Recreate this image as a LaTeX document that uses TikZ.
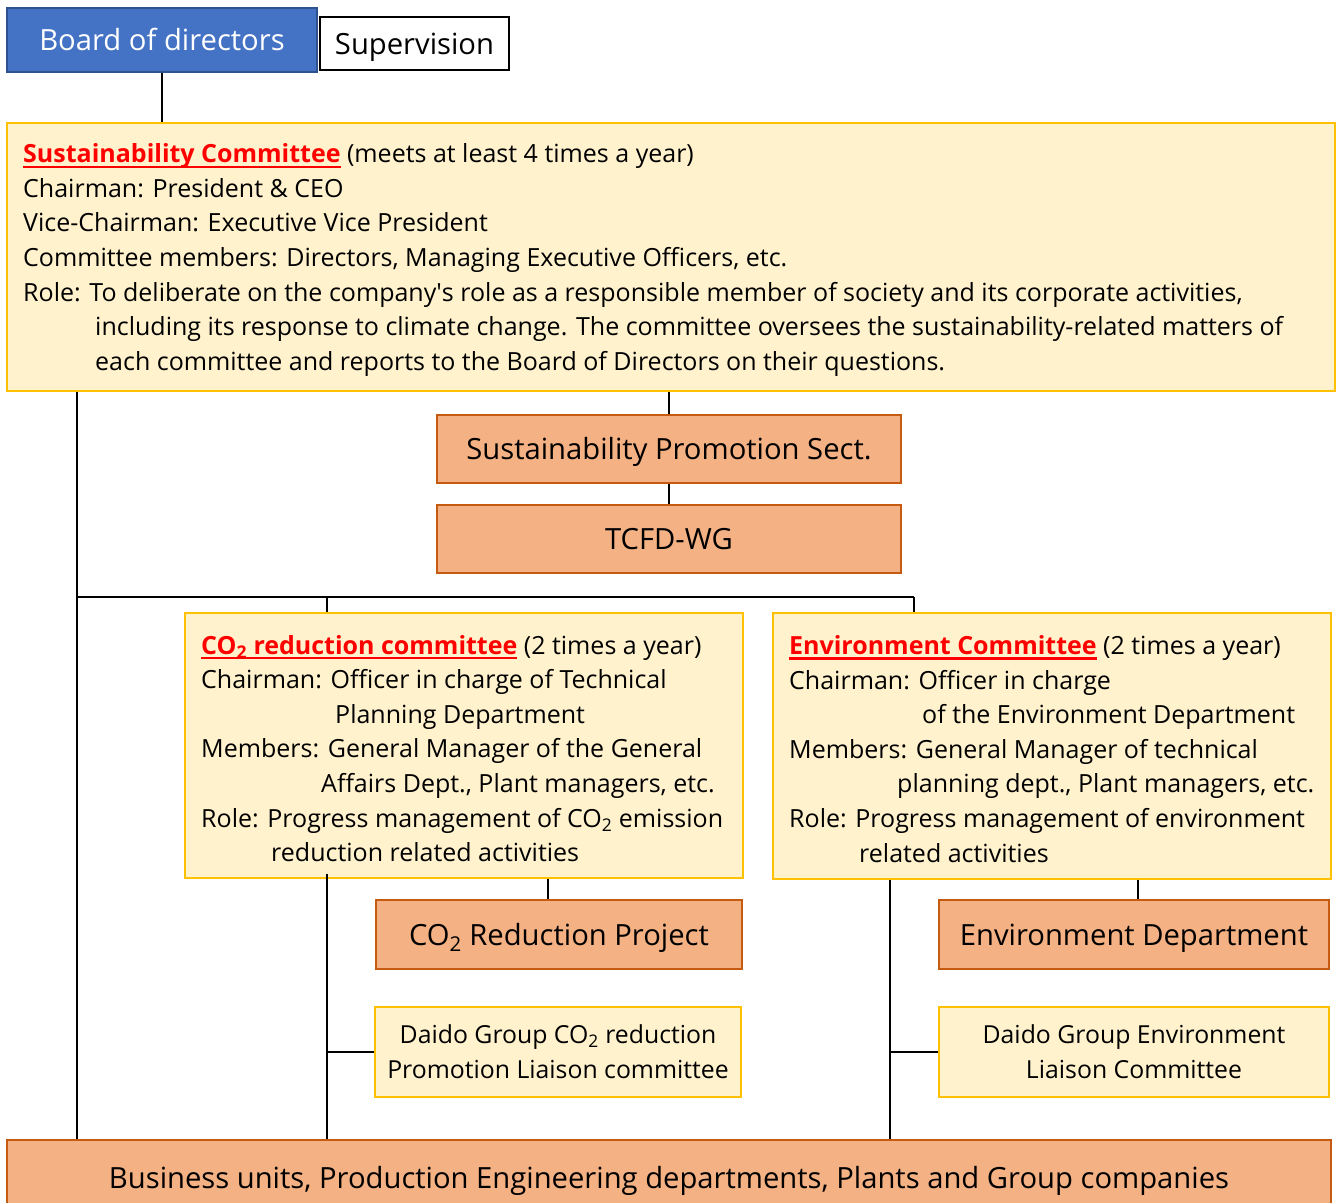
\documentclass[tikz,border=0pt]{standalone}
\usepackage{fontspec}
\setmainfont{Open Sans}
\definecolor{boardblue}{HTML}{4472C4}
\definecolor{boardedge}{HTML}{2F528F}
\definecolor{ylfill}{HTML}{FFF2CC}
\definecolor{yledge}{HTML}{FFC000}
\definecolor{orfill}{HTML}{F4B183}
\definecolor{oredge}{HTML}{C55A11}
\definecolor{titlered}{HTML}{FF0000}
\newsavebox\titlebox
\newcommand\redtitle[1]{{\color{titlered}\bfseries\sbox\titlebox{#1}\rlap{\usebox\titlebox}\rule[-5pt]{\wd\titlebox}{2.2pt}}}
\newcommand\cotwo{CO\textsubscript{2}}
\begin{document}
\begin{tikzpicture}[x=1pt,y=-1pt,
  boxbase/.style={rectangle, inner sep=0pt, line width=1.5pt},
  ybox/.style={boxbase, draw=yledge, fill=ylfill},
  obox/.style={boxbase, draw=oredge, fill=orfill},
  bigtxt/.style={font=\fontsize{29.2}{34}\selectfont, text height=23pt, text depth=2pt},
  smalltxt/.style={font=\fontsize{24.8}{34.7}\selectfont},
  bodytxt/.style={font=\fontsize{25}{34.6}\selectfont, align=left, anchor=west, inner sep=0pt},
  conn/.style={line width=2pt, black}]
\useasboundingbox (0,0) rectangle (1338,1202);
\fill[white] (0,0) rectangle (1338,1202);

% top boxes
\node[boxbase, draw=boardedge, fill=boardblue, text=white, bigtxt,
  minimum width=310, minimum height=64] (board) at (162,40) {Board of directors};
\node[boxbase, draw=black, fill=white, bigtxt,
  minimum width=189, minimum height=53] (sup) at (414.5,43.5) {Supervision};

% sustainability committee
\node[ybox, minimum width=1328, minimum height=268] (sust) at (671,257) {};
\node[bodytxt] (susttext) at (23,260) {\redtitle{Sustainability Committee} (meets at least 4 times a year)\\
Chairman: President \& CEO\\
Vice-Chairman: Executive Vice President\\
Committee members: Directors, Managing Executive Officers, etc.\\
Role: To deliberate on the company\textquotesingle s role as a responsible member of society and its corporate activities,\\
\hspace*{72pt}including its response to climate change. The committee oversees the sustainability-related matters of\\
\hspace*{72pt}each committee and reports to the Board of Directors on their questions.};

% promotion & WG
\node[obox, bigtxt, minimum width=464, minimum height=68] (sps) at (669,449) {Sustainability Promotion Sect.};
\node[obox, bigtxt, minimum width=464, minimum height=68] (tcfd) at (669,539) {TCFD-WG};

% committees
\node[ybox, minimum width=558, minimum height=265] (co2c) at (464,745.5) {};
\node[bodytxt] (co2text) at (201,748.5) {\redtitle{\cotwo{} reduction committee} (2 times a year)\\
Chairman: Officer in charge of Technical\\
\hspace*{134pt}Planning Department\\
Members: General Manager of the General\\
\hspace*{120pt}Affairs Dept., Plant managers, etc.\\
Role: Progress management of \cotwo{} emission\\
\hspace*{70pt}reduction related activities};

\node[ybox, minimum width=558, minimum height=266] (envc) at (1052,746) {};
\node[bodytxt] (envtext) at (789,749) {\redtitle{Environment Committee} (2 times a year)\\
Chairman: Officer in charge\\
\hspace*{133pt}of the Environment Department\\
Members: General Manager of technical\\
\hspace*{108pt}planning dept., Plant managers, etc.\\
Role: Progress management of environment\\
\hspace*{70pt}related activities};

% lower boxes
\node[obox, bigtxt, minimum width=366, minimum height=69] (proj) at (559,934.5) {\cotwo{} Reduction Project};
\node[obox, bigtxt, minimum width=390, minimum height=69] (envdept) at (1134,934.5) {Environment Department};
\node[ybox, smalltxt, align=center, minimum width=366, minimum height=90] (dco2) at (558,1052) {Daido Group \cotwo{} reduction\\Promotion Liaison committee};
\node[ybox, smalltxt, align=center, minimum width=390, minimum height=90] (denv) at (1134,1052) {Daido Group Environment\\Liaison Committee};

% bottom
\node[obox, bigtxt, minimum width=1324, minimum height=76] (bu) at (669,1178) {Business units, Production Engineering departments, Plants and Group companies};

% connectors
\coordinate (lt) at (77,597);
\coordinate (jc) at (327,597);
\coordinate (je) at (914,597);
\coordinate (vc) at (327,1052);
\coordinate (ve) at (890,1052);
\coordinate (pc) at (548,900);
\coordinate (pe) at (1138,900);

\draw[conn] (board.south) -- (board.south |- sust.north);
\draw[conn] (sps.north) -- (sps.north |- sust.south);
\draw[conn] (sps.south) -- (tcfd.north);
\draw[conn] (lt |- sust.south) -- (lt |- bu.north);
\draw[conn] (lt) -- (je);
\draw[conn] (jc) -- (jc |- co2c.north);
\draw[conn] (je) -- (je |- envc.north);
\draw[conn] ([yshift=5pt]vc |- co2c.south) -- (vc |- bu.north);
\draw[conn] (vc) -- (dco2.west);
\draw[conn] (ve |- envc.south) -- (ve |- bu.north);
\draw[conn] (ve) -- (denv.west);
\draw[conn] (pc |- co2c.south) -- (pc |- proj.north);
\draw[conn] (pe |- envc.south) -- (pe |- envdept.north);
\end{tikzpicture}
\end{document}
